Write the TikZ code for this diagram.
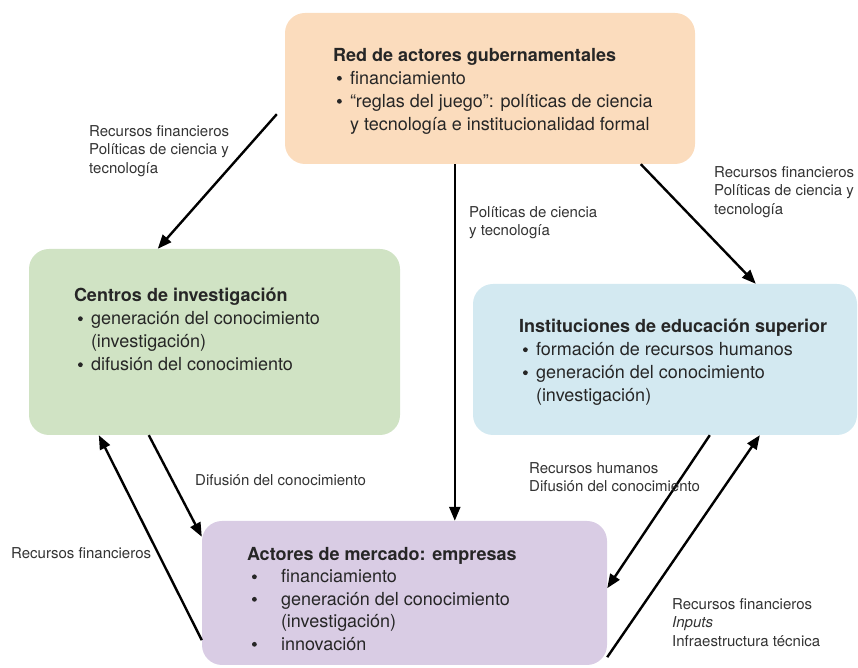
\documentclass[tikz,border=0pt]{standalone}
\usepackage{fontspec}
\setmainfont{TeX Gyre Heros}
\usepackage{xcolor}
\usetikzlibrary{arrows.meta}

\definecolor{govfill}{HTML}{FBDCBD}
\definecolor{cenfill}{HTML}{D0E3C4}
\definecolor{iesfill}{HTML}{D3E9F1}
\definecolor{empfill}{HTML}{D9CCE4}

\newcommand{\bulmark}{\tikz[baseline=0pt]\fill[black!85] (0,5.8pt) circle (2.4pt);}
\newcommand{\bul}{\makebox[17pt][l]{\hspace{4pt}\bulmark}}
\newcommand{\bulwide}{\makebox[34pt][l]{\hspace{5pt}\bulmark}}

\begin{document}
\begin{tikzpicture}[x=1pt, y=1pt,
	box/.style={draw=none, rounded corners=20pt, inner sep=0pt},
	boxtext/.style={anchor=north west, inner sep=0pt, align=left, text=black!85, font=\fontsize{18}{23}\selectfont},
	lbl/.style={anchor=north west, inner sep=0pt, align=left, text=black!80, font=\fontsize{15}{18.5}\selectfont},
	flow/.style={line width=2.4pt, -{Triangle[length=14pt,width=11pt]}}]
	\useasboundingbox (0,0) rectangle (858,668);

	% actores
	\node[box, fill=govfill, minimum width=410pt, minimum height=151pt] (gov) at (490,579.5) {};
	\node[box, fill=cenfill, minimum width=371pt, minimum height=186pt] (cen) at (214.5,326) {};
	\node[box, fill=iesfill, minimum width=384pt, minimum height=151pt] (ies) at (665,308.5) {};
	\node[box, fill=empfill, minimum width=405pt, minimum height=144pt] (emp) at (404.5,75) {};

	\node[boxtext] (govtxt) at ([shift={(48,-35)}]gov.north west) {\textbf{Red de actores gubernamentales}\\
		\bul financiamiento\\
		\bul “reglas del juego”: políticas de ciencia\\
		\hspace*{17pt}y tecnología e institucionalidad formal};
	\node[boxtext] (centxt) at ([shift={(45,-39)}]cen.north west) {\textbf{Centros de investigación}\\
		\bul generación del conocimiento\\
		\hspace*{17pt}(investigación)\\
		\bul difusión del conocimiento};
	\node[boxtext] (iestxt) at ([shift={(46,-35)}]ies.north west) {\textbf{Instituciones de educación superior}\\
		\bul formación de recursos humanos\\
		\bul generación del conocimiento\\
		\hspace*{17pt}(investigación)};
	\node[boxtext, font=\fontsize{18}{22.5}\selectfont] (emptxt) at ([shift={(45,-26)}]emp.north west) {\textbf{Actores de mercado: empresas}\\
		\bulwide financiamiento\\
		\bulwide generación del conocimiento\\
		\hspace*{34pt}(investigación)\\
		\bulwide innovación};

	% flujos
	\draw[flow] ([shift={(-8,50)}]gov.south west) -- ([xshift=129pt]cen.north west);
	\draw[flow] ([xshift=170pt]gov.south west) -- ([xshift=253pt]emp.north west);
	\draw[flow] ([xshift=356pt]gov.south west) -- ([xshift=283pt]ies.north west);
	\draw[flow] ([xshift=120pt]cen.south west) -- ([yshift=-16pt]emp.north west);
	\draw[flow] ([yshift=25pt]emp.south west) -- ([xshift=70pt]cen.south west);
	\draw[flow] ([xshift=237pt]ies.south west) -- ([yshift=77pt]emp.south east);
	\draw[flow] ([yshift=8pt]emp.south east) -- ([xshift=287pt]ies.south west);

	\node[lbl] (lgovcen) at (89,543) {Recursos financieros\\Políticas de ciencia y\\tecnología};
	\node[lbl] (lgovemp) at (469,462) {Políticas de ciencia\\y tecnología};
	\node[lbl] (lgovies) at (714,502) {Recursos financieros\\Políticas de ciencia y\\tecnología};
	\node[lbl] (lcenemp) at (195,194) {Difusión del conocimiento};
	\node[lbl] (lempcen) at (11,121) {Recursos financieros};
	\node[lbl] (liesemp) at (529,206) {Recursos humanos\\Difusión del conocimiento};
	\node[lbl] (lempies) at (672,70) {Recursos financieros\\\textit{Inputs}\\Infraestructura técnica};
\end{tikzpicture}
\end{document}
